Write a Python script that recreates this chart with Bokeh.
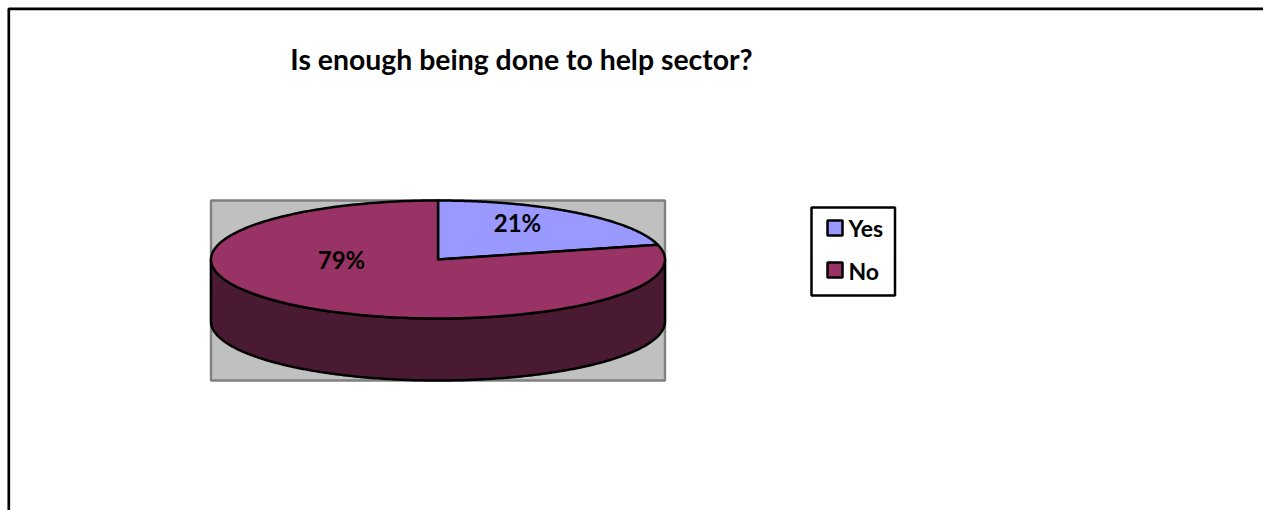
import numpy as np
from bokeh.core.properties import value
from bokeh.embed import file_html
from bokeh.models import Range1d
from bokeh.plotting import figure
from bokeh.resources import INLINE

# Survey result
title_text = "Is enough being done to help sector?"
categories = ["Yes", "No"]
shares = [21, 79]
top_colors = ["#9999FF", "#993366"]
side_color = "#4A1A33"
wall_color = "#C0C0C0"
font = value("Lato")

W, H = 1263, 510
p = figure(width=W, height=H, output_backend="svg", toolbar_location=None,
           x_range=Range1d(0, W), y_range=Range1d(H, 0), min_border=0)
p.xaxis.visible = False
p.yaxis.visible = False
p.grid.visible = False
p.outline_line_color = None

# Outer chart frame: the page crops its right and bottom edges
p.line([8.3, 8.3, W], [H, 8.3, 8.3], line_color="black", line_width=2.7)

# Pie ellipse geometry
cx, cy, rx, ry, depth = 437.5, 259.0, 227.0, 59.0, 62.0

# Plot-area wall behind the pie
p.quad(left=cx - rx, right=cx + rx, top=cy - ry, bottom=cy - ry + 180,
       fill_color=wall_color, line_color="#808080", line_width=2.4)


def rim(start, stop, n=240):
    """Ellipse points between two clockwise-from-top angles, in degrees."""
    t = np.radians(np.linspace(start, stop, n))
    return cx + rx * np.sin(t), cy - ry * np.cos(t)


# Side wall under the front half of the rim
fx, fy = rim(90, 270)
p.patch(np.r_[fx, fx[::-1]], np.r_[fy, fy[::-1] + depth],
        fill_color=side_color, line_color="black", line_width=2.5, line_join="round")

# Top face, slices run clockwise from twelve o'clock
angle = 0.0
for share, color in zip(shares, top_colors):
    sweep = 360.0 * share / sum(shares)
    ex, ey = rim(angle, angle + sweep)
    p.patch(np.r_[cx, ex], np.r_[cy, ey], fill_color=color,
            line_color="black", line_width=2.5, line_join="round")
    angle += sweep

# Title and slice labels
p.text([521], [58.5], text=[title_text], text_font=font, text_font_style="bold",
       text_font_size="28.4px", text_color="black", text_align="center", text_baseline="middle")
p.text([517, 341], [222, 258.5], text=[f"{s}%" for s in shares], text_font=font,
       text_font_style="bold", text_font_size="24px", text_color="black",
       text_align="center", text_baseline="middle")

# Legend box, swatches and entries
p.quad(left=811, right=894.5, top=207, bottom=295, fill_color="white",
       line_color="black", line_width=2.5)
rows = [227.5, 269.5]
p.quad(left=[827, 827], right=[842, 842], top=[y - 7.5 for y in rows],
       bottom=[y + 7.5 for y in rows], fill_color=top_colors,
       line_color="black", line_width=2.5)
p.text([848, 848], [227.5, 270.5], text=categories, text_font=font, text_font_style="bold",
       text_font_size="23px", text_color="black", text_align="left", text_baseline="middle")

open("out.html", "w").write(file_html(p, INLINE))
